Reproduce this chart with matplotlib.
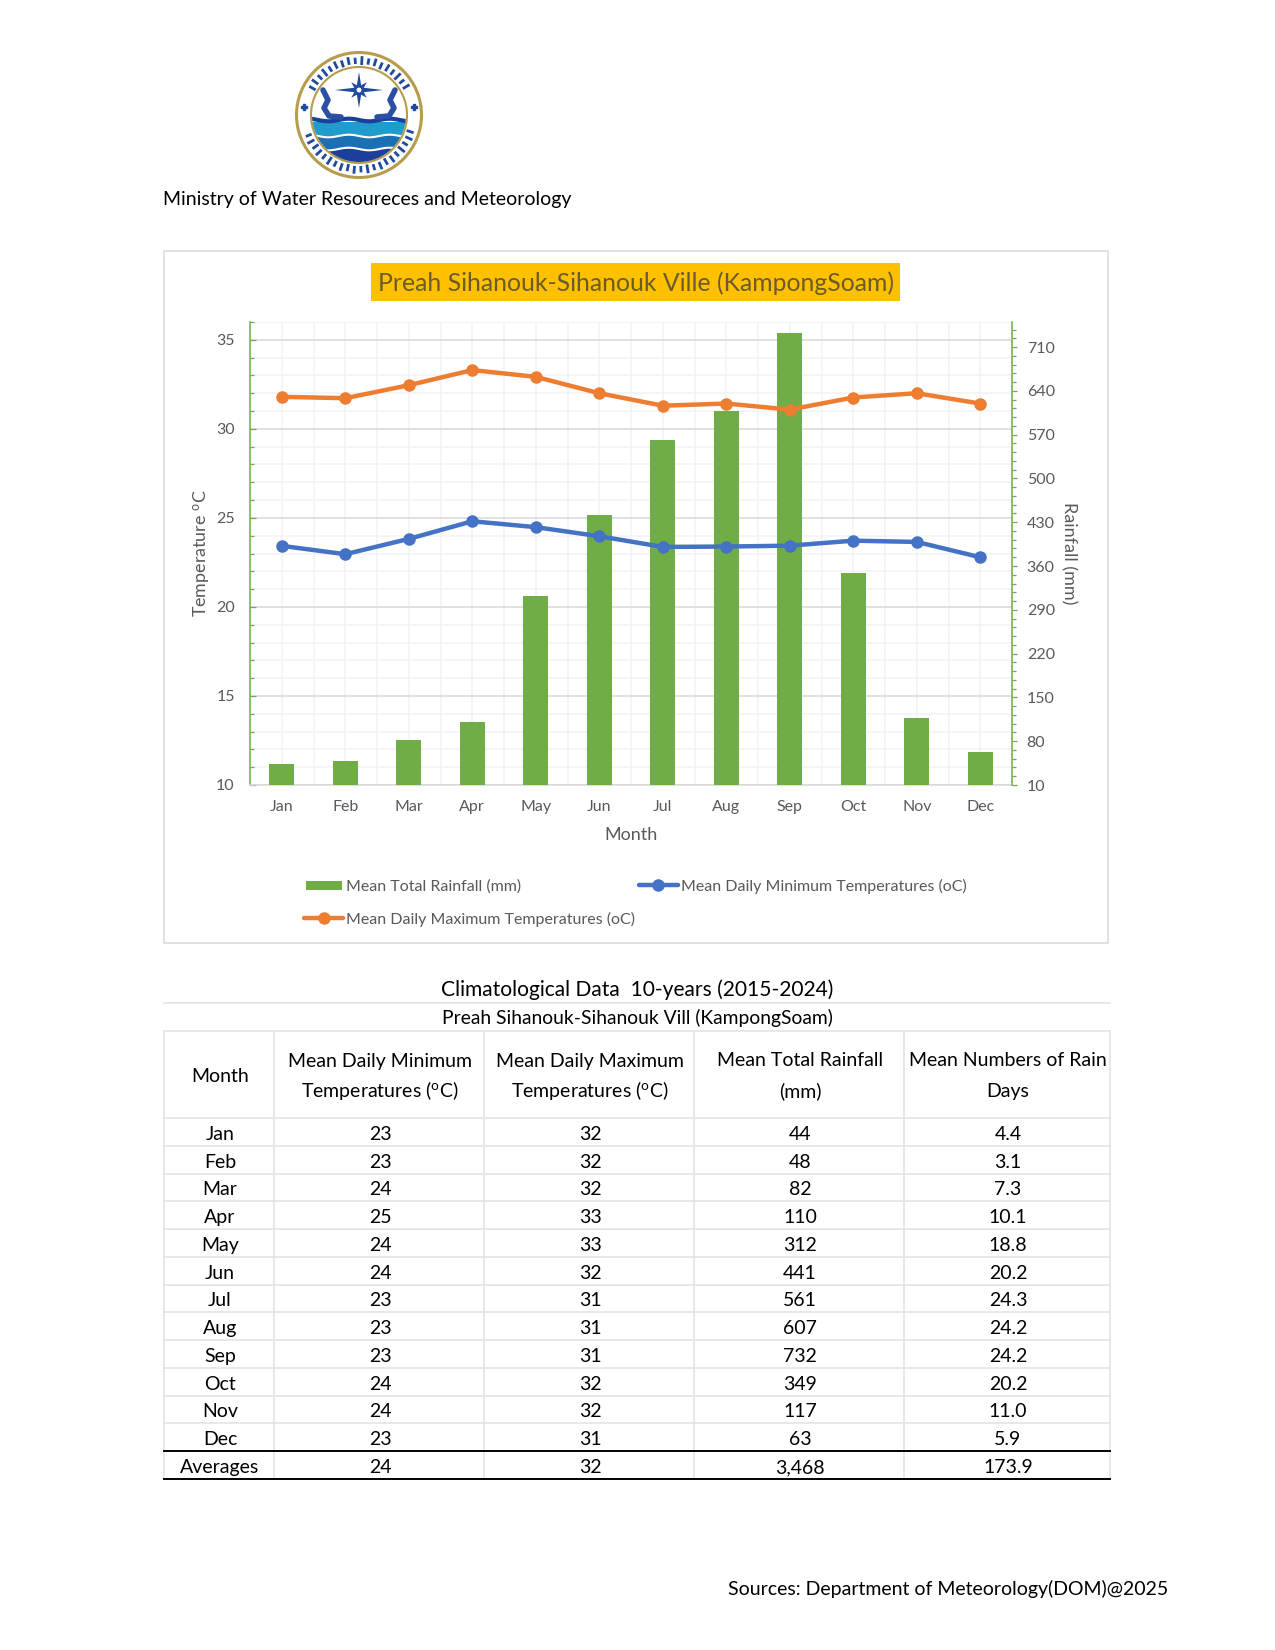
import numpy as np
import matplotlib
matplotlib.use("Agg")
import matplotlib.pyplot as plt
from matplotlib.patches import Circle, Rectangle, Polygon
from matplotlib.lines import Line2D
from matplotlib.legend_handler import HandlerPatch

plt.rcParams['font.family'] = ['Lato', 'DejaVu Sans']
plt.rcParams['mathtext.default'] = 'regular'

months = ['Jan', 'Feb', 'Mar', 'Apr', 'May', 'Jun', 'Jul', 'Aug', 'Sep', 'Oct', 'Nov', 'Dec']
rain = [44, 48, 82, 110, 312, 441, 561, 607, 732, 349, 117, 63]
tmin_line = [23.43, 22.96, 23.82, 24.81, 24.48, 23.97, 23.37, 23.39, 23.44, 23.72, 23.65, 22.79]
tmax_line = [31.8, 31.72, 32.45, 33.3, 32.92, 32.0, 31.3, 31.42, 31.08, 31.76, 32.0, 31.42]

# table columns
tbl_min = ['23', '23', '24', '25', '24', '24', '23', '23', '23', '24', '24', '23', '24']
tbl_max = ['32', '32', '32', '33', '33', '32', '31', '31', '31', '32', '32', '31', '32']
tbl_rain = ['44', '48', '82', '110', '312', '441', '561', '607', '732', '349', '117', '63', '3,468']
tbl_days = ['4.4', '3.1', '7.3', '10.1', '18.8', '20.2', '24.3', '24.2', '24.2', '20.2', '11.0', '5.9', '173.9']
tbl_month = months + ['Averages']

W, H = 1275, 1650
GREEN = '#70AD47'
BLUE = '#4472C4'
ORANGE = '#ED7D31'
GREY = '#595959'

fig = plt.figure(figsize=(W / 100, H / 100), dpi=100, facecolor='white')

# page layer in pixel coordinates, for frame, table and logo
page = fig.add_axes([0, 0, 1, 1], zorder=0)
page.set_xlim(0, W)
page.set_ylim(H, 0)
page.axis('off')


def axes_rect(x0, y0, x1, y1):
    return [x0 / W, 1 - y1 / H, (x1 - x0) / W, (y1 - y0) / H]


page.add_patch(Rectangle((163.5, 251), 944, 692, fc='white', ec='#D9D9D9', lw=1.1))
page.add_patch(Rectangle((371, 263), 529, 38, fc='#FFC000', ec='none'))
page.text(635.5, 283.5, 'Preah Sihanouk-Sihanouk Ville (KampongSoam)', color='#6B5B2B',
          fontsize=17.8, ha='center', va='center')

# chart
rect = axes_rect(250, 322, 1012, 785)
ax = fig.add_axes(rect, zorder=1)
ax.patch.set_alpha(0)
x = np.arange(len(months))

ax.set_xlim(-0.5, 11.5)
ax.set_ylim(10, 36)
ax.set_yticks(np.arange(10, 36, 5))
ax.set_yticks(np.arange(10, 37, 1), minor=True)
ax.set_xticks(x)
ax.set_xticks(np.arange(-0.5, 12, 0.5), minor=True)
ax.set_xticklabels(months)
ax.grid(True, which='minor', color='#F2F2F2', lw=1.1)
ax.grid(True, which='major', axis='y', color='#D9D9D9', lw=1.1)
ax.grid(True, which='major', axis='x', color='#F2F2F2', lw=1.1)
ax.set_axisbelow(True)
ax.tick_params(axis='x', which='both', length=0, labelsize=11.5, labelcolor=GREY, pad=11)
ax.tick_params(axis='y', which='major', direction='in', length=4, width=0.9, color=GREEN,
               labelsize=11.5, labelcolor=GREY, pad=11)
ax.tick_params(axis='y', which='minor', direction='in', length=3, width=0.9, color=GREEN)
ax.set_xlabel('Month', color=GREY, fontsize=13, labelpad=9)
ax.set_ylabel('Temperature $^{o}$C', color=GREY, fontsize=12.9, labelpad=3)
for s in ['top', 'right']:
    ax.spines[s].set_visible(False)
ax.spines['bottom'].set_color('#D9D9D9')
ax.spines['bottom'].set_linewidth(1.1)
ax.spines['left'].set_color(GREEN)
ax.spines['left'].set_linewidth(1.1)

ax2 = ax.twinx()
ax2.set_ylim(10, 750)
ax2.set_yticks(np.arange(10, 711, 70))
ax2.set_yticks(np.arange(10, 750, 14), minor=True)
bars = ax2.bar(x, rain, width=0.4, bottom=0, color=GREEN, zorder=2, label='Mean Total Rainfall (mm)')
ax2.tick_params(axis='y', which='major', direction='out', length=3.6, width=0.9, color=GREEN,
                labelsize=11.5, labelcolor=GREY, pad=7)
ax2.tick_params(axis='y', which='minor', direction='out', length=3, width=0.9, color=GREEN)
ax2.set_ylabel('Rainfall (mm)', color=GREY, fontsize=13, rotation=270, labelpad=16)
for s in ['top', 'left', 'bottom']:
    ax2.spines[s].set_visible(False)
ax2.spines['right'].set_color(GREEN)
ax2.spines['right'].set_linewidth(1.1)

# lines go on their own layer so they sit above the bars
ax3 = ax.twinx()
ax3.set_ylim(10, 36)
ax3.axis('off')
l_min, = ax3.plot(x, tmin_line, color=BLUE, lw=3.2, marker='o', ms=8,
                  label='Mean Daily Minimum Temperatures (oC)', solid_capstyle='round')
l_max, = ax3.plot(x, tmax_line, color=ORANGE, lw=3.2, marker='o', ms=8,
                  label='Mean Daily Maximum Temperatures (oC)', solid_capstyle='round')


def short_bar(legend, orig_handle, xdescent, ydescent, width, height, fontsize):
    # legend swatch of the bars is a bit narrower than the line handles
    return Rectangle((0.04 * width, 0.1 * height), 0.92 * width, 0.8 * height)


swatch = Rectangle((0, 0), 1, 1, fc=GREEN)
handles = [swatch, l_max, l_min]
labels = [h.get_label() for h in [bars, l_max, l_min]]
fig.legend(handles, labels, ncol=2, loc='upper left', frameon=False,
           bbox_to_anchor=(304 / W, 1 - 879 / H), fontsize=11.5, labelcolor=GREY,
           handlelength=2.45, handletextpad=0.2, columnspacing=0.2, labelspacing=1.12,
           borderaxespad=0, borderpad=0,
           handler_map={swatch: HandlerPatch(patch_func=short_bar)})

# heading text
page.text(163, 199.5, 'Ministry of Water Resoureces and Meteorology', fontsize=14,
          color='black', ha='left', va='center')
page.text(1168, 1589, 'Sources: Department of Meteorology(DOM)@2025', fontsize=14,
          color='black', ha='right', va='center')
page.text(637, 990, 'Climatological Data  10-years (2015-2024)', fontsize=15.1, ha='center', va='center')
page.text(637, 1018, 'Preah Sihanouk-Sihanouk Vill (KampongSoam)', fontsize=13.9, ha='center', va='center')
page.add_line(Line2D([164, 1110], [1003, 1003], color='#E4E4E4', lw=1.2))

# table
col_edges = [164, 274, 484, 694, 904, 1110]
head_top, head_bot = 1031, 1118
row_h = 27.75
n_rows = len(tbl_month)
table_bot = head_bot + n_rows * row_h
head_lines = [['Month'],
              ['Mean Daily Minimum', 'Temperatures ($^{o}$C)'],
              ['Mean Daily Maximum', 'Temperatures ($^{o}$C)'],
              ['Mean Total Rainfall', '(mm)'],
              ['Mean Numbers of Rain', 'Days']]
for xe in col_edges:
    page.add_line(Line2D([xe, xe], [head_top, table_bot], color='#E4E4E4', lw=1.2))
page.add_line(Line2D([164, 1110], [head_top, head_top], color='#E4E4E4', lw=1.2))
for i in range(n_rows):
    page.add_line(Line2D([164, 1110], [head_bot + i * row_h] * 2, color='#E4E4E4', lw=1.2))
page.add_line(Line2D([164, 1110], [head_bot + 12 * row_h] * 2, color='black', lw=1.4))
page.add_line(Line2D([164, 1110], [table_bot] * 2, color='black', lw=1.4))

centers = [(col_edges[i] + col_edges[i + 1]) / 2 for i in range(5)]
for cx, lines in zip(centers, head_lines):
    if len(lines) == 1:
        page.text(cx + 1, 1076, lines[0], fontsize=14, ha='center', va='center')
    else:
        page.text(cx + 1, 1061, lines[0], fontsize=14, ha='center', va='center')
        page.text(cx + 1, 1091, lines[1], fontsize=14, ha='center', va='center')
for i in range(n_rows):
    y = head_bot + (i + 0.5) * row_h + 2.5
    row = [tbl_month[i], tbl_min[i], tbl_max[i], tbl_rain[i], tbl_days[i]]
    for cx, val in zip(centers, row):
        page.text(cx + 1, y, val, fontsize=14, ha='center', va='center')

# logo, rough redraw of the seal
lx, ly = 359, 115
page.add_patch(Circle((lx, ly), 62.5, fc='white', ec='#B79C4B', lw=2.2))
page.add_patch(Circle((lx, ly), 48, fc='white', ec='#B79C4B', lw=1.5))
clip = Circle((lx, ly), 47, transform=page.transData)
for y0, y1, c in [(122, 136, '#1F9CCB'), (136, 149, '#1B6FB3'), (149, 163, '#1C3F9B')]:
    bg = page.add_patch(Rectangle((lx - 48, y0), 96, y1 - y0, fc=c, ec='none'))
    bg.set_clip_path(clip)
wx = np.linspace(lx - 48, lx + 48, 120)
for y0, c, lw in [(120, '#1C3F9B', 3.0), (136, 'white', 1.5), (149, 'white', 1.5)]:
    wv, = page.plot(wx, y0 + 1.3 * np.sin((wx - lx) / 6.5), color=c, lw=lw)
    wv.set_clip_path(clip)
for a in np.arange(0, 360, 45):
    if a % 180 == 0:
        r = 24
    elif a % 90 == 0:
        r = 18
    else:
        r = 11
    t = np.radians(a)
    tip = (lx + r * np.cos(t), 90 + r * np.sin(t))
    s1 = (lx + 3.5 * np.cos(t + 0.8), 90 + 3.5 * np.sin(t + 0.8))
    s2 = (lx + 3.5 * np.cos(t - 0.8), 90 + 3.5 * np.sin(t - 0.8))
    page.add_patch(Polygon([tip, s1, s2], fc='#1F4A9E', ec='none', zorder=3))
for sx in [-1, 1]:
    page.plot([lx + sx * 36, lx + sx * 31, lx + sx * 35, lx + sx * 30, lx + sx * 18],
              [90, 100, 108, 116, 117], color='#2A4FA5', lw=4, solid_capstyle='round')
    page.plot([lx + sx * 55], [107], marker='P', ms=4.5, color='#1F4A9E')
# band of script round the seal
for a in np.arange(-150, 210, 7):
    if -30 < a < 18 or 162 < a:
        continue
    t = np.radians(a)
    r0 = 52.5 if int(a) % 3 else 51.5
    r1 = 57.5 if int(a) % 2 else 56
    page.plot([lx + r0 * np.cos(t), lx + r1 * np.cos(t)],
              [ly + r0 * np.sin(t), ly + r1 * np.sin(t)], color='#1F4A9E', lw=2.0)

fig.savefig('out.png', dpi=100, facecolor='white')
